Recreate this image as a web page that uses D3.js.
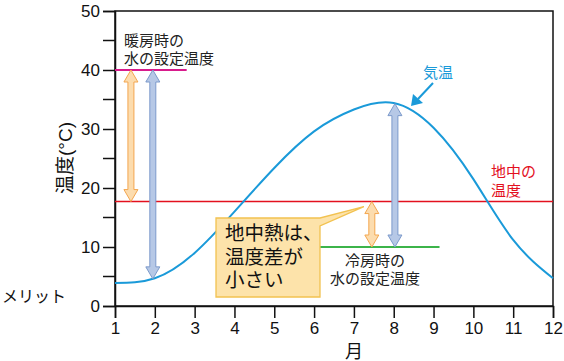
<!DOCTYPE html>
<html>
<head>
<meta charset="utf-8">
<script src="https://cdn.jsdelivr.net/npm/d3@7"></script>
<style>
  body { margin: 0; background: #fff; }
  text { font-family: "Liberation Sans", Arial, "Noto Sans CJK JP", sans-serif; }
</style>
</head>
<body>
<svg id="chart" width="564" height="361"></svg>
<script>
// air temperature (month, degC)
var months = [1, 2, 3, 4, 5, 6, 7, 8, 9, 10, 11, 12];
var airTemp = [3.9, 4.7, 9.0, 16.0, 23.4, 29.6, 33.3, 34.4, 30.2, 21.5, 11.2, 4.7];
var groundTemp = 17.7;
var heatingSet = 40, heatingFrom = 1, heatingTo = 2.8;
var coolingSet = 10, coolingFrom = 6.15, coolingTo = 9.15;
var xTicks = [1, 2, 3, 4, 5, 6, 7, 8, 9, 10, 11, 12];
var yTicks = [0, 10, 20, 30, 40, 50];
var yMinor = [5, 15, 25, 35, 45];
// double arrows: month, top value, bottom value, kind
var arrowMonths = [1.4, 1.95, 7.45, 8.03];
var arrowTops = [40, 40, 17.7, 34.3];
var arrowBottoms = [17.7, 4.6, 10, 10];
var arrowKinds = ["orange", "blue", "orange", "blue"];

var margins = { top: 11, left: 115, bottom: 55, right: 11 };
var width = 564 - margins.left - margins.right;
var height = 361 - margins.top - margins.bottom;

var svg = d3.select("#chart");
var g = svg.append("g").attr("transform", "translate(" + margins.left + "," + margins.top + ")");

var x = d3.scaleLinear().domain([1, 12]).range([0, width]);
var y = d3.scaleLinear().domain([0, 50]).range([height, 0]);

// frame
g.append("rect").attr("width", width).attr("height", height)
  .attr("fill", "none").attr("stroke", "#111").attr("stroke-width", 1.5);

// axes
var yAxis = d3.axisLeft(y).tickValues(yTicks).tickSize(12).tickPadding(3);
var yG = g.append("g").call(yAxis);
yG.append("g").selectAll("line").data(yMinor).join("line")
  .attr("x1", -12).attr("x2", 0)
  .attr("y1", function(d) { return y(d); }).attr("y2", function(d) { return y(d); })
  .attr("stroke", "#111").attr("stroke-width", 1.5);

var xAxis = d3.axisBottom(x).tickValues(xTicks).tickSize(12).tickPadding(4);
var xG = g.append("g").attr("transform", "translate(0," + height + ")").call(xAxis);

[yG, xG].forEach(function(a) {
  a.select(".domain").attr("stroke", "#111").attr("stroke-width", 1.5);
  a.selectAll(".tick line").attr("stroke", "#111").attr("stroke-width", 1.5);
  a.selectAll(".tick text").attr("font-size", 17).attr("fill", "#111")
    .style("font-family", "'Liberation Sans', Arial, sans-serif");
});

// reference lines
g.append("line").attr("x1", x(1)).attr("x2", x(12))
  .attr("y1", y(groundTemp)).attr("y2", y(groundTemp))
  .attr("stroke", "#e3101e").attr("stroke-width", 1.6);
g.append("line").attr("x1", x(heatingFrom)).attr("x2", x(heatingTo))
  .attr("y1", y(heatingSet)).attr("y2", y(heatingSet))
  .attr("stroke", "#d81b8c").attr("stroke-width", 1.8);
g.append("line").attr("x1", x(coolingFrom)).attr("x2", x(coolingTo))
  .attr("y1", y(coolingSet)).attr("y2", y(coolingSet))
  .attr("stroke", "#3cb44a").attr("stroke-width", 1.8);

// air temperature curve
var line = d3.line()
  .x(function(d, i) { return x(months[i]); })
  .y(function(d) { return y(d); })
  .curve(d3.curveNatural);
g.append("path").attr("d", line(airTemp))
  .attr("fill", "none").attr("stroke", "#1a9ad9").attr("stroke-width", 2);

// double-headed arrows
var arrowStyle = {
  orange: { fill: "#fcdcae", stroke: "#f3a64e" },
  blue: { fill: "#b6c8e6", stroke: "#7c9acb" }
};
function arrowPath(cx, y1, y2) {
  var sw = 3, hw = 7, hl = 12;
  return "M" + cx + "," + y1 +
    "L" + (cx + hw) + "," + (y1 + hl) + "L" + (cx + sw) + "," + (y1 + hl) +
    "L" + (cx + sw) + "," + (y2 - hl) + "L" + (cx + hw) + "," + (y2 - hl) +
    "L" + cx + "," + y2 +
    "L" + (cx - hw) + "," + (y2 - hl) + "L" + (cx - sw) + "," + (y2 - hl) +
    "L" + (cx - sw) + "," + (y1 + hl) + "L" + (cx - hw) + "," + (y1 + hl) + "Z";
}
g.selectAll(".arr").data(arrowMonths).join("path")
  .attr("class", "arr")
  .attr("d", function(d, i) { return arrowPath(x(d), y(arrowTops[i]), y(arrowBottoms[i])); })
  .attr("fill", function(d, i) { return arrowStyle[arrowKinds[i]].fill; })
  .attr("stroke", function(d, i) { return arrowStyle[arrowKinds[i]].stroke; })
  .attr("stroke-width", 1);

// callout box
var bx = 216 - margins.left, by = 218 - margins.top, bw = 104, bh = 79;
var tipX = x(7.25), tipY = y(groundTemp) + 5;
g.append("path")
  .attr("d", "M" + bx + "," + by + "L" + (bx + bw) + "," + by +
    "L" + tipX + "," + tipY + "L" + (bx + bw) + "," + (by + 8) +
    "L" + (bx + bw) + "," + (by + bh) + "L" + bx + "," + (by + bh) + "Z")
  .attr("fill", "#fde3aa").attr("stroke", "#f2c250").attr("stroke-width", 1.3);
var callout = ["地中熱は、", "温度差が", "小さい"];
g.selectAll(".callout").data(callout).join("text")
  .attr("class", "callout")
  .attr("x", bx + 9).attr("y", function(d, i) { return by + 22 + i * 23.5; })
  .attr("font-size", 19.5).attr("fill", "#111").text(function(d) { return d; });

// labels
function label(lines, px, py, size, color, anchor, lh) {
  g.selectAll(null).data(lines).join("text")
    .attr("x", px).attr("y", function(d, i) { return py + i * lh; })
    .attr("font-size", size).attr("fill", color).attr("text-anchor", anchor)
    .text(function(d) { return d; });
}
label(["暖房時の", "水の設定温度"], 124 - margins.left, 46 - margins.top, 15, "#222", "start", 18);
label(["冷房時の", "水の設定温度"], 375 - margins.left, 266 - margins.top, 15, "#222", "middle", 18);
label(["地中の", "温度"], 491 - margins.left, 177 - margins.top, 15, "#e3101e", "start", 18.5);
label(["気温"], 423 - margins.left, 78 - margins.top, 15, "#1a9ad9", "start", 18);

// pointer arrow for air temperature
svg.append("line").attr("x1", 433).attr("y1", 83).attr("x2", 418).attr("y2", 99)
  .attr("stroke", "#1a9ad9").attr("stroke-width", 2);
svg.append("path").attr("d", "M411,106L413,94L423,103Z").attr("fill", "#1a9ad9");

// axis titles
svg.append("text").attr("transform", "translate(72,158) rotate(-90)")
  .attr("text-anchor", "middle").attr("font-size", 19).attr("fill", "#111")
  .text("温度(°C)");
svg.append("text").attr("x", x(7.0) + margins.left).attr("y", 358)
  .attr("text-anchor", "middle").attr("font-size", 18).attr("fill", "#111").text("月");
svg.append("text").attr("x", 2).attr("y", 302)
  .attr("font-size", 16).attr("fill", "#111").text("メリット");
</script>
</body>
</html>
